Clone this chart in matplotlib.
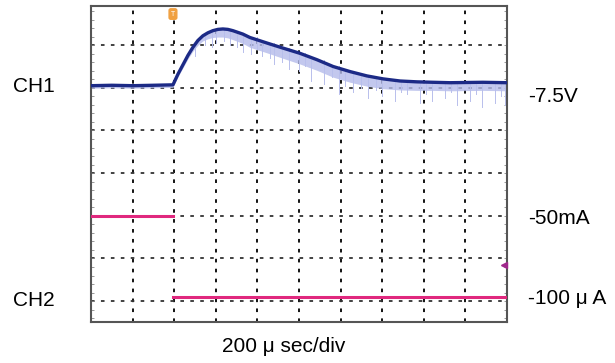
import matplotlib
matplotlib.use('Agg')
import matplotlib.pyplot as plt

plt.rcParams['font.family'] = ['Liberation Sans', 'DejaVu Sans']

#### DATA (units = divisions) ####
# CH1 voltage trace, dark centre line
ch1_t = [0, 0.5, 1.0, 1.5, 1.97, 2.09, 2.21, 2.33, 2.45, 2.57, 2.69, 2.81, 2.93, 3.05,
         3.17, 3.29, 3.41, 3.65, 3.82, 4.23, 4.62, 5.02, 5.43, 5.82, 6.23, 6.63, 7.02,
         7.43, 7.84, 8.22, 8.63, 9.42, 10.0]
ch1_v = [6.05, 6.06, 6.05, 6.06, 6.07, 6.32, 6.54, 6.76, 6.95, 7.11, 7.22, 7.29, 7.34, 7.37,
         7.38, 7.37, 7.34, 7.26, 7.18, 7.05, 6.93, 6.81, 6.66, 6.50, 6.38, 6.28, 6.21,
         6.16, 6.14, 6.13, 6.12, 6.13, 6.12]
# lower edge of the light (persistence) band under CH1
ch1_lo = [5.99, 6.00, 5.99, 6.00, 6.01, 6.26, 6.47, 6.68, 6.86, 7.00, 7.10, 7.15, 7.18, 7.19,
          7.19, 7.17, 7.13, 7.04, 6.95, 6.82, 6.69, 6.56, 6.41, 6.25, 6.13, 6.04, 5.98,
          5.95, 5.94, 5.94, 5.93, 5.94, 5.93]
# light spikes hanging below CH1 (position, bottom level)
spike_t = [2.5, 2.75, 2.9, 3.0, 3.2, 3.35, 3.5, 3.65, 3.85, 4.0, 4.1, 4.3, 4.4, 4.6, 4.75,
           5.0, 5.15, 5.3, 5.6, 5.8, 5.95, 6.1, 6.3, 6.5, 6.65, 6.85, 7.0, 7.3, 7.45, 7.6,
           7.9, 8.05, 8.2, 8.5, 8.65, 8.8, 9.1, 9.25, 9.4, 9.7, 9.85, 9.95]
spike_v = [6.75, 7.0, 6.95, 7.05, 7.1, 7.0, 6.95, 6.85, 6.8, 6.9, 6.75, 6.7, 6.55, 6.6, 6.45,
           6.4, 6.5, 6.15, 6.1, 6.25, 5.85, 6.05, 5.9, 6.0, 5.75, 5.95, 5.8, 5.7, 5.9, 5.85,
           5.65, 5.85, 5.7, 5.75, 5.9, 5.6, 5.7, 5.85, 5.55, 5.65, 5.8, 5.6]

# CH2 current trace
ch2_t = [0, 1.97, 1.97, 10.0]
ch2_v = [3.0, 3.0, 1.1, 1.1]

#### FIGURE ####
fig = plt.figure(figsize=(6.15, 3.63), dpi=100)
ax = fig.add_axes([91/615, 1-322/363, 416/615, 316.5/363])
ax.set_xlim(0, 10)
ax.set_ylim(0.51, 7.93)

# dotted graticule
for gx in range(1, 10):
    ax.axvline(gx, color='black', lw=1.3, ls=(0, (2, 3.5)), zorder=1)
for gy in range(1, 8):
    ax.axhline(gy, color='#333333', lw=1.3, ls=(0, (2, 3.5)), zorder=1)

# CH1
ax.fill_between(ch1_t, ch1_lo, ch1_v, color='#b4bbea', alpha=0.8, lw=0, zorder=2)
for st, sv in zip(spike_t, spike_v):
    i = min(range(len(ch1_t)), key=lambda k: abs(ch1_t[k] - st))
    ax.plot([st, st], [sv, ch1_v[i]], color='#b8bfec', lw=0.7, zorder=2)
ax.plot(ch1_t, ch1_v, color='#1c2a86', lw=2.4, zorder=3)

# CH2
ax.plot(ch2_t[:2], ch2_v[:2], color='#e0287e', lw=2.2, zorder=3)
ax.plot(ch2_t[2:], ch2_v[2:], color='#e0287e', lw=2.2, zorder=3)

# trigger marker and CH2 offset marker
ax.text(1.97, 7.73, 'T', fontsize=5, color='white', ha='center', va='center',
        bbox=dict(boxstyle='round,pad=0.25', fc='#f0a040', ec='#f0a040'), zorder=5)
ax.plot([9.93], [1.85], marker='<', color='#a0288c', ms=5, zorder=5, clip_on=False)

# frame and little inward ticks
for sp in ax.spines.values():
    sp.set_color('#555555')
    sp.set_linewidth(1.5)
ax.set_xticks([])
ax.set_yticks([0.6 + 0.2 * k for k in range(37)], minor=True)
ax.set_yticks([])
ax.tick_params(axis='y', which='minor', direction='in', length=2, color='#888888',
               left=True, right=True, labelleft=False)

# labels
fs = 15
fig.text(13/615, 1-86/363, 'CH1', fontsize=fs, ha='left', va='center')
fig.text(13/615, 1-300/363, 'CH2', fontsize=fs, ha='left', va='center')
fig.text(528/615, 1-96/363, '-7.5V', fontsize=fs, ha='left', va='center')
fig.text(528/615, 1-219/363, '-50mA', fontsize=fs, ha='left', va='center')
fig.text(528/615, 1-298/363, '-100 μ A', fontsize=fs, ha='left', va='center')
fig.text(284/615, 1-347/363, '200 μ sec/div', fontsize=fs, ha='center', va='center')

fig.savefig('out.png', dpi=100)
